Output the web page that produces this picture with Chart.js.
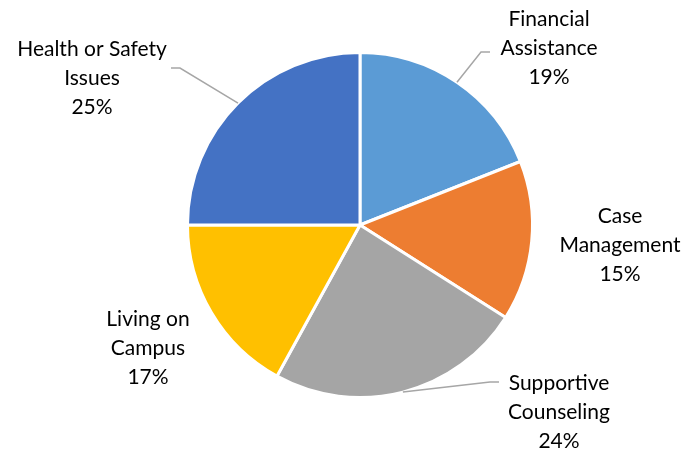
<!DOCTYPE html>
<html>
<head>
<meta charset="utf-8">
<script src="https://cdn.jsdelivr.net/npm/chart.js@4.4.0/dist/chart.umd.min.js"></script>
<style>
  html, body { margin: 0; padding: 0; background: #fff; }
  #wrap { width: 685px; height: 452px; position: relative; }
</style>
</head>
<body>
<div id="wrap"><canvas id="myPie"></canvas></div>
<script>
var categories = ['Financial Assistance', 'Case Management', 'Supportive Counseling', 'Living on Campus', 'Health or Safety Issues'];
var shares = [19, 15, 24, 17, 25];
var sliceColors = ['#5B9BD5', '#ED7D31', '#A5A5A5', '#FFC000', '#4472C4'];

// label text lines per slice
var labelLines = [
    ['Financial', 'Assistance'],
    ['Case', 'Management'],
    ['Supportive', 'Counseling'],
    ['Living on', 'Campus'],
    ['Health or Safety', 'Issues']
];
// where each label sits (center x, first baseline y) and elbow of its leader line
var labelPos = [
    { x: 549, y: 26, elbow: [481, 52, 490, 52] },
    { x: 620, y: 223, elbow: null },
    { x: 559, y: 390, elbow: [490, 382, 499, 382] },
    { x: 148, y: 326, elbow: null },
    { x: 92, y: 56, elbow: [180, 68, 171, 68] }
];

var FONT = '21px Lato, "Liberation Sans", sans-serif';

var pieLabels = {
    id: 'pieLabels',
    afterDatasetsDraw: function(chart) {
        var c = chart.ctx;
        var arcs = chart.getDatasetMeta(0).data;
        c.save();
        arcs.forEach(function(arc, i) {
            var p = labelPos[i];
            if (p.elbow) {
                var mid = (arc.startAngle + arc.endAngle) / 2;
                var sx = arc.x + Math.cos(mid) * arc.outerRadius;
                var sy = arc.y + Math.sin(mid) * arc.outerRadius;
                c.strokeStyle = '#A6A6A6';
                c.lineWidth = 1.5;
                c.beginPath();
                c.moveTo(sx, sy);
                c.lineTo(p.elbow[0], p.elbow[1]);
                c.lineTo(p.elbow[2], p.elbow[3]);
                c.stroke();
            }
            c.fillStyle = '#000';
            c.font = FONT;
            c.textAlign = 'center';
            c.textBaseline = 'alphabetic';
            var lines = labelLines[i].concat([shares[i] + '%']);
            lines.forEach(function(t, k) {
                c.fillText(t, p.x, p.y + k * 29);
            });
        });
        c.restore();
    }
};

var ctx = document.getElementById('myPie').getContext('2d');
var myChart = new Chart(ctx, {
    type: 'pie',
    data: {
        labels: categories,
        datasets: [{
            data: shares,
            backgroundColor: sliceColors,
            borderColor: '#ffffff',
            borderWidth: 3
        }]
    },
    options: {
        responsive: true,
        maintainAspectRatio: false,
        animation: false,
        layout: { padding: { left: 186, top: 51, right: 151, bottom: 53 } },
        plugins: {
            legend: { display: false },
            tooltip: { enabled: false }
        }
    },
    plugins: [pieLabels]
});
</script>
</body>
</html>
